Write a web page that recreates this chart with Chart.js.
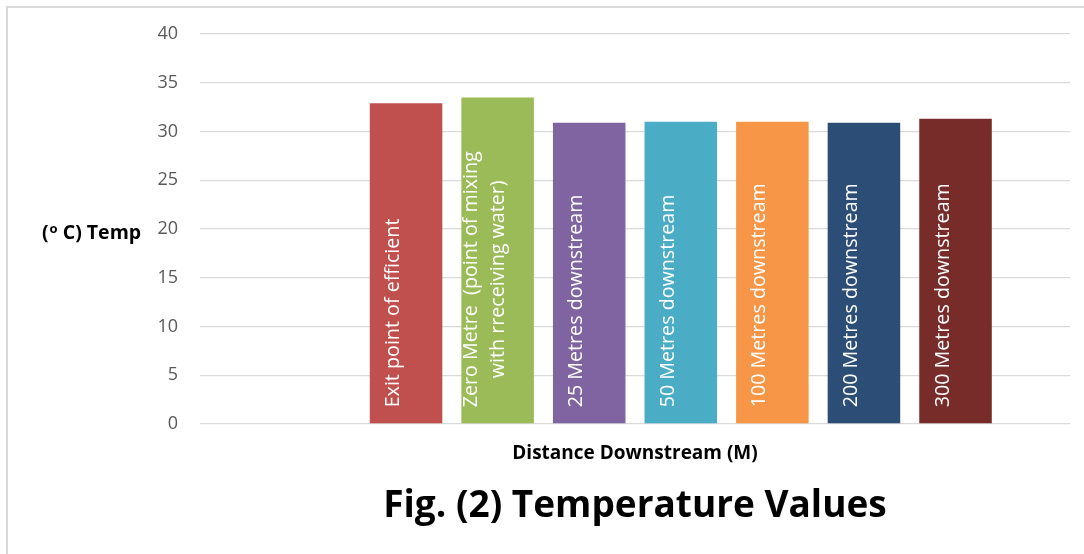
<!DOCTYPE html>
<html>
<head>
<meta charset="utf-8">
<script src="https://cdn.jsdelivr.net/npm/chart.js@4/dist/chart.umd.min.js"></script>
<style>
  html, body { margin: 0; padding: 0; background: #ffffff; }
  canvas { display: block; }
</style>
</head>
<body>
<canvas id="chart" width="1084" height="554"></canvas>
<script>
// Sampling stations (each label may wrap onto several lines)
const categories = [
  ['Exit point of efficient'],
  ['Zero Metre  (point of mixing', 'with rreceiving water)'],
  ['25 Metres downstream'],
  ['50 Metres downstream'],
  ['100 Metres downstream'],
  ['200 Metres downstream'],
  ['300 Metres downstream']
];

// Water temperature at each station (°C)
const temps = [32.9, 33.5, 30.9, 31.0, 31.0, 30.9, 31.3];

const barColors = ['#C0504D', '#9BBB59', '#8064A2', '#4BACC6', '#F79646', '#2C4D75', '#772C2A'];

const yTicks = [0, 5, 10, 15, 20, 25, 30, 35, 40];

const xTitle = 'Distance Downstream (M)';
const figTitle = 'Fig. (2) Temperature Values';
const yTitleParts = ['(', 'o', ' C) Temp'];

const FONT = '"Open Sans", "DejaVu Sans", sans-serif';

// Rotated station names drawn inside the base of each bar
const barLabels = {
  id: 'barLabels',
  afterDatasetsDraw(chart) {
    const ctx = chart.ctx;
    const meta = chart.getDatasetMeta(0);
    ctx.save();
    ctx.fillStyle = '#ffffff';
    ctx.font = '19.7px ' + FONT;
    ctx.textBaseline = 'middle';
    ctx.textAlign = 'center';
    meta.data.forEach((bar, i) => {
      const lines = categories[i];
      const w = Math.max(...lines.map(l => ctx.measureText(l).width));
      ctx.save();
      ctx.translate(bar.x - 12.5, bar.base - 16);
      ctx.rotate(-Math.PI / 2);
      lines.forEach((l, j) => {
        ctx.fillText(l, w / 2, (j - (lines.length - 1) / 2) * 27);
      });
      ctx.restore();
    });
    ctx.restore();
  }
};

// Frame, axis titles and figure caption
const decorations = {
  id: 'decorations',
  afterDraw(chart) {
    const ctx = chart.ctx;
    const area = chart.chartArea;
    ctx.save();
    ctx.fillStyle = '#d9d9d9';
    ctx.fillRect(6, 6, chart.width - 6, 2);
    ctx.fillRect(6, 6, 2, chart.height - 6);

    ctx.fillStyle = '#000000';
    ctx.textBaseline = 'alphabetic';

    // y-axis title, horizontal, with a raised "o"
    let x = 42;
    const yBase = 239;
    ctx.textAlign = 'left';
    ctx.font = 'bold 19.5px ' + FONT;
    ctx.fillText(yTitleParts[0], x, yBase);
    x += ctx.measureText(yTitleParts[0]).width + 1;
    ctx.font = 'bold 13px ' + FONT;
    ctx.fillText(yTitleParts[1], x, yBase - 6);
    x += ctx.measureText(yTitleParts[1]).width;
    ctx.font = 'bold 19.5px ' + FONT;
    ctx.fillText(yTitleParts[2], x, yBase);

    const cx = (area.left + area.right) / 2;
    ctx.textAlign = 'center';
    ctx.font = 'bold 19px ' + FONT;
    ctx.fillText(xTitle, cx, 459);

    ctx.font = 'bold 37px ' + FONT;
    ctx.fillText(figTitle, cx, 517);
    ctx.restore();
  }
};

new Chart(document.getElementById('chart'), {
  type: 'bar',
  data: {
    datasets: [{
      data: temps.map((v, i) => ({ x: i, y: v })),
      backgroundColor: barColors,
      borderWidth: 0,
      barPercentage: 0.792,
      categoryPercentage: 1
    }]
  },
  options: {
    responsive: false,
    animation: false,
    layout: { padding: { left: 0, right: 14, top: 34, bottom: 130 } },
    plugins: { legend: { display: false }, tooltip: { enabled: false } },
    scales: {
      x: {
        type: 'linear',
        min: -2.25,
        max: 7.25,
        offset: false,
        display: false
      },
      y: {
        min: 0,
        max: 40,
        afterBuildTicks(scale) { scale.ticks = yTicks.map(v => ({ value: v })); },
        afterFit(scale) { scale.width = 200; },
        ticks: {
          color: '#595959',
          padding: 22,
          font: { family: FONT, size: 18 }
        },
        grid: { color: '#d9d9d9', lineWidth: 1.3, drawTicks: false },
        border: { display: false }
      }
    }
  },
  plugins: [barLabels, decorations]
});
</script>
</body>
</html>
